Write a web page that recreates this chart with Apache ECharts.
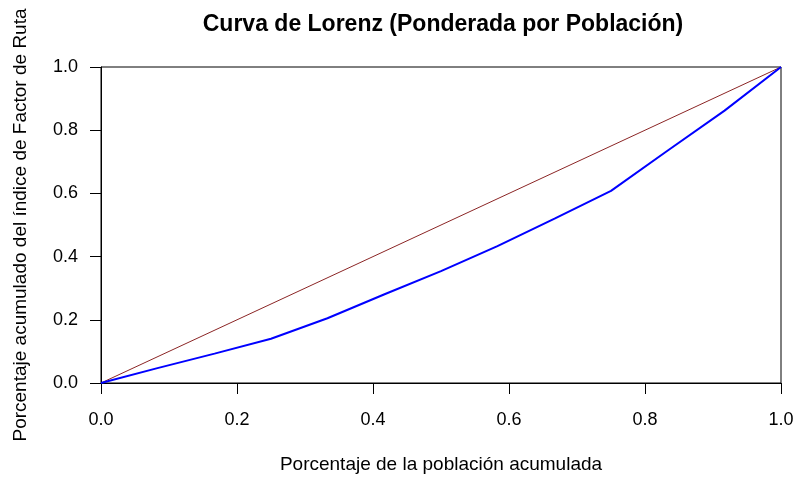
<!DOCTYPE html>
<html>
<head>
<meta charset="utf-8">
<script src="https://cdn.jsdelivr.net/npm/echarts@6/dist/echarts.min.js"></script>
<style>
  html, body { margin: 0; padding: 0; background: #fff; }
  #chart { width: 797px; height: 479px; }
</style>
</head>
<body>
<div id="chart"></div>
<script>
// cumulative population share (x) and cumulative index share (y)
var popShare = [0, 0.083, 0.167, 0.25, 0.333, 0.417, 0.5, 0.583, 0.667, 0.75, 0.833, 0.917, 1];
var indexShare = [0, 0.047, 0.093, 0.140, 0.205, 0.281, 0.354, 0.433, 0.520, 0.608, 0.735, 0.862, 1];
var equality = [[0, 0], [1, 1]];

var chart = echarts.init(document.getElementById('chart'), null, { renderer: 'canvas' });

var font = 'Liberation Sans, Arial, sans-serif';

var lorenz = popShare.map(function(x, i) {
  return [x, indexShare[i]];
});

function axisBase(name, gap, margin) {
  return {
    type: 'value',
    min: 0,
    max: 1,
    interval: 0.2,
    name: name,
    nameLocation: 'middle',
    nameGap: gap,
    nameTextStyle: { color: '#000', fontSize: 19, fontFamily: font },
    axisLine: { show: true, lineStyle: { color: '#000', width: 1 } },
    axisTick: { show: true, inside: false, length: 11, lineStyle: { color: '#000' } },
    axisLabel: {
      color: '#000',
      fontSize: 18,
      fontFamily: font,
      margin: margin,
      formatter: function(v) { return v.toFixed(1); }
    },
    splitLine: { show: false }
  };
}

var option = {
  animation: false,
  backgroundColor: '#fff',
  title: {
    text: 'Curva de Lorenz (Ponderada por Población)',
    left: 438,
    top: 8,
    textAlign: 'center',
    textStyle: { color: '#000', fontSize: 23, fontWeight: 'bold', fontFamily: font }
  },
  grid: {
    left: 101,
    right: 16,
    top: 67,
    bottom: 95,
    show: true,
    borderColor: '#000',
    borderWidth: 1
  },
  xAxis: axisBase('Porcentaje de la población acumulada', 72, 28),
  yAxis: axisBase('Porcentaje acumulado del índice de Factor de Ruta', 71, 23),
  series: [
    {
      type: 'line',
      data: equality,
      showSymbol: false,
      lineStyle: { color: '#8b2525', width: 1 }
    },
    {
      type: 'line',
      data: lorenz,
      showSymbol: false,
      lineStyle: { color: '#0000ff', width: 2 }
    }
  ]
};

chart.setOption(option);
</script>
</body>
</html>
